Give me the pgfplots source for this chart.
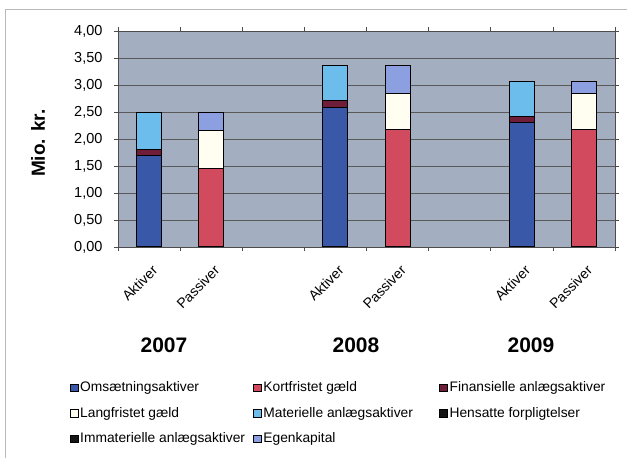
\documentclass[border=0pt]{standalone}
\usepackage{fontspec}
\setmainfont{Liberation Sans}
\usepackage{pgfplots}
\pgfplotsset{compat=1.18}
\definecolor{bg}{HTML}{A3AFC0}
\definecolor{cBlue}{HTML}{3A58A8}
\definecolor{cRed}{HTML}{D24A5E}
\definecolor{cMaroon}{HTML}{6E1E38}
\definecolor{cCream}{HTML}{FFFEF0}
\definecolor{cLight}{HTML}{6CBDEB}
\definecolor{cDark}{HTML}{151515}
\definecolor{cLav}{HTML}{8C9FE0}
\begin{document}
\begin{tikzpicture}[x=1pt,y=1pt]
\useasboundingbox (0,0) rectangle (627,458);
\draw[gray!55, line width=0.8pt] (5,0) -- (5,449) -- (627,449);
\node[font=\fontsize{21}{25}\selectfont\bfseries] at (164,113) {2007};
\node[font=\fontsize{21}{25}\selectfont\bfseries] at (356,113) {2008};
\node[font=\fontsize{21}{25}\selectfont\bfseries] at (531,113) {2009};
\begin{axis}[
  at={(118pt,211pt)}, anchor=south west, scale only axis,
  width=497pt, height=216pt,
  ybar stacked, bar width=25pt,
  xmin=-0.5, xmax=7.5, ymin=0, ymax=4,
  ytick={0,0.5,...,4},
  ymajorgrids, grid style={black!65, line width=0.6pt},
  axis background/.style={fill=bg},
  axis line style={black!70, line width=0.8pt},
  tick align=outside, major tick length=4pt, minor tick length=4pt,
  tick style={black!70, line width=0.6pt},
  xtick={0,1,3,4,6,7},
  xticklabels={Aktiver,Passiver,Aktiver,Passiver,Aktiver,Passiver},
  minor xtick={-0.5,0.5,...,7.5},
  major x tick style={draw=none},
  xticklabel style={rotate=45, anchor=north east, font=\fontsize{14}{16}\selectfont, xshift=-4.5pt, yshift=-7.5pt},
  yticklabel style={font=\fontsize{14.5}{17}\selectfont, xshift=-8pt},
  /pgf/number format/.cd, fixed, fixed zerofill, precision=2, use comma, assume math mode=true,
  /pgfplots/.cd,
  ylabel={Mio. kr.},
  ylabel style={font=\fontsize{19}{22}\selectfont\bfseries, at={(axis description cs:-0.161,0.48)}, anchor=center},
  legend columns=3,
  legend cell align=left,
  legend image code/.code={\draw[#1, line width=0.7pt] (0pt,-3.8pt) rectangle (7.5pt,3.8pt);},
  legend style={at={(axis description cs:-0.103,-0.61)}, anchor=north west, draw=none, fill=none,
     font=\fontsize{13.8}{16}\selectfont, row sep=12pt, nodes={inner sep=1pt},
     /tikz/every odd column/.append style={column sep=1pt},
     /tikz/every even column/.append style={column sep=0pt}},
]
\addplot[fill=cBlue, draw=black, line width=1pt] coordinates {(0,1.70) (1,0) (3,2.59) (4,0) (6,2.30) (7,0)};
\addlegendentry{\makebox[172pt][l]{Omsætningsaktiver}}
\addplot[fill=cRed, draw=black, line width=1pt] coordinates {(0,0) (1,1.45) (3,0) (4,2.18) (6,0) (7,2.17)};
\addlegendentry{\makebox[175pt][l]{Kortfristet gæld}}
\addplot[fill=cMaroon, draw=black, line width=1pt] coordinates {(0,0.11) (1,0) (3,0.12) (4,0) (6,0.11) (7,0)};
\addlegendentry{Finansielle anlægsaktiver}
\addplot[fill=cCream, draw=black, line width=1pt] coordinates {(0,0) (1,0.71) (3,0) (4,0.66) (6,0) (7,0.67)};
\addlegendentry{\makebox[172pt][l]{Langfristet gæld}}
\addplot[fill=cLight, draw=black, line width=1pt] coordinates {(0,0.69) (1,0) (3,0.65) (4,0) (6,0.65) (7,0)};
\addlegendentry{\makebox[175pt][l]{Materielle anlægsaktiver}}
\addplot[fill=cDark, draw=black, line width=1pt] coordinates {(0,0) (1,0) (3,0) (4,0) (6,0) (7,0)};
\addlegendentry{Hensatte forpligtelser}
\addplot[fill=cDark, draw=black, line width=1pt] coordinates {(0,0) (1,0) (3,0) (4,0) (6,0) (7,0)};
\addlegendentry{\makebox[172pt][l]{Immaterielle anlægsaktiver}}
\addplot[fill=cLav, draw=black, line width=1pt] coordinates {(0,0) (1,0.34) (3,0) (4,0.52) (6,0) (7,0.22)};
\addlegendentry{\makebox[175pt][l]{Egenkapital}}
\end{axis}
\end{tikzpicture}
\end{document}
